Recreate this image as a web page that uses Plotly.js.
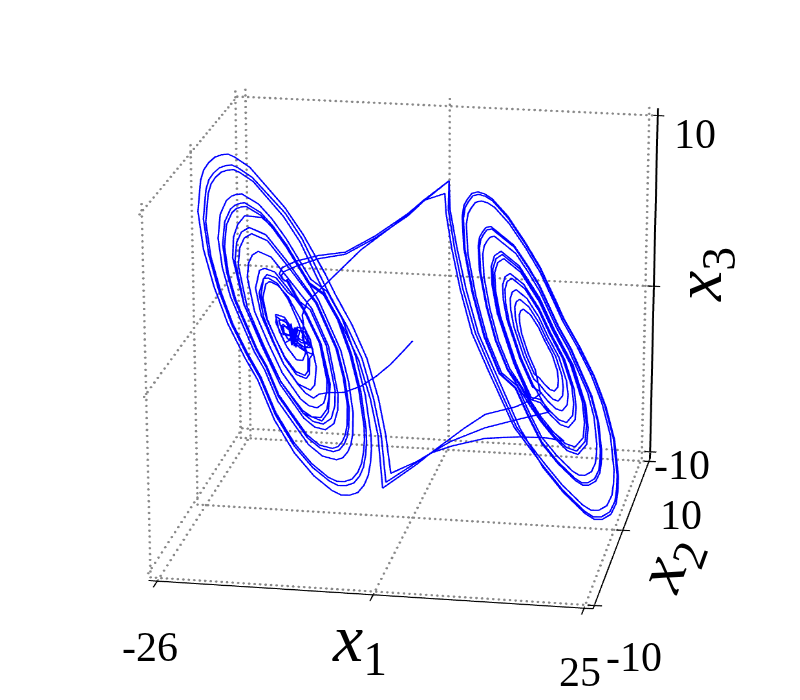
<!DOCTYPE html>
<html>
<head>
<meta charset="utf-8">
<script src="https://cdn.plot.ly/plotly-3.0.1.min.js"></script>
<style>
html, body { margin: 0; padding: 0; width: 800px; height: 700px; overflow: hidden; background: #fff; }
#chart { position: absolute; left: -1245px; top: -1314px; width: 3307px; height: 3307px; }
/* the reference is a bit wider than tall, only the 3d canvas gets stretched, not the text */
#chart .gl-container { transform: scaleX(1.126); transform-origin: 1653.5px 1653.5px; }
</style>
</head>
<body>
<div id="chart"></div>
<script>
const x1Ticks = [-26, 0, 25];
const x2Ticks = [-10, 0, 10];
const x3Ticks = [-10, 0, 10];

// trajectory, run by run. depth cannot be read from one view so x2 stays at x2Plane
const x2Plane = 0;

const leftRun1X1 = [0,-1.17,-2.75,-4.46,-6.4,-8.47,-10.29,-11.56,-12.29,-13.28,-14.19,-15.94,-17.2,-18.38,-18.89,-18.33,-17.73,-16.61,-15.33,-14.06,-13.44,-13.22,-13.58,-14.36,-15.55,-16.46,-16.9,
  -16.58,-15.77,-15.16,-14.76,-13.95,-13.14,-12.33,-12.33,-13.14,-13.95,-14.96,-15.77,-16.3,-16.86,-16.78,-16.37,-15.57,-14.96,-14.15,-13.34,-12.65,-12.53,-13.34,-14.15,-14.96,-15.97,-16.17,-15.97,-15.36,-14.76,-14.35,-13.54,-13.05,-12.93,-13.74,-14.55,-15.36,-15.85,-15.97,-15.16,-14.76,-14.55,-14.96,-14.35,-14.76,-14.15,-14.55,
  -15,-14.6,-14.2,-14.9,-15.3,-14.4,-13.9,-13.2,-12.7,-13.5,-14.8,-16,-16.5,-15.6,
  -13.95,-13.14,-12.33,-12.33,
  -12.72,-12.76,-13.17,-14.39,-15.81,-16.86,-17.92,-18.45,-18.04,-17.57,-16.57,-15.34,-13.77,-12.62,-11.91,-12.11,-12.66,-14.2,-15.94,-17.28,-18.66,-19.33,-18.81,-18.17,-16.93,-15.36,
  -13.06,-11.47,-10.6,-10.64,-11.01,-11.85,-12.87,-13.9,-16.14,-17.81,-19.49,-20.33,-20.14,-19.68,-18.93,-17.35,-15.39,
  -12.42,-10.37,-9.24,-9.28,-9.77,-10.85,-12.18,-13.5,-16.4,-18.57,-20.74,-21.82,-21.58,-20.98,-20.01,-17.97,-15.43,
  -11.78,-9.26,-8.38,-7.87,-7.93,-8.14,-8.52,-9.11,-9.85,-11.48,-13.11,-16.66,-18.14,-19.32,-21.99,-22.88,-23.31,-23.02,-22.28,-21.7,-21.09,-20.5,-18.58,-17.1,-15.47,-12.66,
  -10.78,-9.06,-7.54,-6.4,-5.76,-5.72,-5.83,-6.1,-6.59,-7.34,-8.3,-9.32,-10.4,-12.49,-14.78,-17.07,-18.97,-20.49,-22.4,-23.93,-25.07,-25.64,-25.26,-24.88,-24.31,-23.56,-22.78,-22.01,-21.26,-19.55,
  -15.56,-13.53,-11.31,-10.09,-8.06,-6.24,-4.82,-3.89,-3.32,
  2.23,3.91,6.44,8.97,12.76,14.86,15.71];
const leftRun1X3 = [-0.07,-0.7,-1.51,-2.22,-2.86,-3.27,-3.33,-3.45,-3.71,-3.44,-2.97,-1.83,-0.52,0.85,2.22,3.05,3.1,2.82,1.96,0.64,-0.22,-1.13,-1.54,-1.53,-0.8,0.08,1.02,
  1,0.89,0.42,0.04,-0.32,-0.49,-0.86,-1.15,-1.04,-0.81,-0.36,-0.58,-0.01,0.56,0.91,0.77,0.6,0.07,0.35,0.32,-0.28,-0.77,-0.79,-0.53,-0.16,-0.1,0.39,0.49,0.22,-0.06,0.21,0.12,-0.39,-0.58,-0.51,-0.25,-0.37,0,0.39,0.32,-0.55,0.34,-0.65,0.35,-0.55,0.26,-0.54,
  0.55,-0.75,0.4,-0.7,0.4,-0.8,0.2,0.1,-0.6,-0.9,-0.2,0,0.7,0.75,
  -0.32,-0.49,-0.86,-1.15,
  -1.41,-2.32,-2.59,-2.39,-1.47,-0.43,0.72,1.96,2.76,2.91,2.72,2.1,0.79,-0.34,-1.87,-2.93,-3.25,-2.93,-1.83,-0.55,0.92,2.49,3.52,3.65,3.47,2.58,
  1.17,-0.49,-2.62,-3.34,-3.97,-4.27,-4.17,-3.8,-2.34,-0.69,1.14,3.09,3.91,4.37,4.6,4.31,3.2,
  1.5,-0.64,-3.39,-4.32,-5.14,-5.53,-5.4,-4.92,-3.04,-0.9,1.47,3.99,5.05,5.65,5.94,5.57,4.14,
  1.84,-0.79,-2.47,-4.16,-5.31,-5.89,-6.32,-6.66,-6.79,-6.63,-6.05,-3.73,-2.07,-1.11,1.79,3.33,4.9,6.19,6.93,7.17,7.28,7.32,6.82,6.09,5.07,2.95,
  2.36,0.95,-1.02,-3.19,-5.37,-6.14,-6.84,-7.59,-8.14,-8.58,-8.75,-8.77,-8.54,-7.79,-6.57,-4.81,-2.67,-1.44,0.35,2.3,4.29,6.3,7.96,8.53,8.91,9.23,9.37,9.42,9.28,8.78,
  6.85,5.45,3.37,2.24,0.55,-1.24,-3.55,-5.67,-8.42,
  -6.55,-5.91,-4.95,-4.09,-3.54,-3.03,-2.71];

const rightRun1X1 = [15.02,14.18,13.34,13.08,13.02,13.18,13.5,14.39,15.39,16.13,17.08,17.73,17.87,17.82,17.39,16.87,16.18,15.55,
  14.94,13.9,12.85,12.53,12.46,12.66,13.05,14.16,15.4,16.31,17.49,18.3,18.47,18.4,17.88,17.23,16.38,15.6,
  14.86,13.61,12.37,11.98,11.9,12.13,12.6,13.92,15.41,16.5,17.9,18.87,19.07,18.99,18.37,17.59,16.58,15.64,
  14.73,13.14,11.56,11.06,10.97,11.26,11.85,13.54,15.42,16.81,18.59,19.82,20.07,19.98,19.18,18.19,16.91,15.72,
  14.55,13.29,12.53,10.51,9.88,9.75,10.13,10.88,13.03,15.44,17.21,19.48,21.05,21.38,21.25,20.24,18.97,17.33,15.82,14.48,13.01,
  11.7,10.24,9.09,8.28,8.11,8.27,8.6,9,9.58,12.35,13.99,15.46,17.75,19.21,21.82,22.71,23.13,23.11,22.97,22.49,21.66,20.9,20.03,17.91,15.95,14.31,12.69,
  10.71,8.85,7.39,6.36,6.15,6.35,6.77,7.28,8.01,8.81,9.68,11.54,13.62,15.49,17.14,18.39,20.26,22.13,23.57,24.7,25.24,25.21,25.03,24.42,23.37,22.4,21.29,18.6,16.11,
  12.55,10.44,9.3,7.28,5.81,4.75,4.05,3.9,
  1.26,-0.56,-6.28,-10.66,-12.97,-13.58,-13.45];
const rightRun1X3 = [-1.33,-0.48,0.67,1.3,1.73,1.99,2.09,1.78,1.08,0.37,-0.44,-1.34,-1.88,-2.27,-2.52,-2.44,-2.15,-1.8,
  -1.61,-0.55,0.87,1.65,2.19,2.5,2.64,2.24,1.37,0.49,-0.5,-1.62,-2.28,-2.77,-3.08,-2.99,-2.62,-2.19,
  -1.88,-0.62,1.07,2,2.65,3.02,3.18,2.71,1.67,0.62,-0.56,-1.91,-2.69,-3.27,-3.64,-3.53,-3.1,-2.58,
  -2.35,-0.74,1.41,2.59,3.41,3.88,4.08,3.49,2.17,0.84,-0.67,-2.37,-3.38,-4.11,-4.58,-4.44,-3.89,-3.23,
  -3.08,-1.83,-1.03,1.72,3.22,4.27,4.87,5.13,4.37,2.69,0.98,-0.94,-3.11,-4.39,-5.33,-5.93,-5.75,-5.05,-4.21,-3.31,-2.2,
  -1.42,0.2,2.13,4.08,5.44,5.92,6.21,6.47,6.54,5.57,4.48,3.39,1.19,0.03,-2.62,-4.1,-5.76,-6.4,-6.97,-7.48,-7.74,-7.76,-7.51,-6.6,-5.52,-4.06,-2.45,
  -1.67,0.39,2.84,5.31,7.04,7.66,8.02,8.35,8.44,8.35,8.11,7.2,5.82,4.44,2.86,1.64,0.16,-1.51,-3.2,-5.09,-7.19,-8.01,-8.73,-9.38,-9.71,-9.73,-9.42,-8.26,-6.89,
  -4.76,-2.67,-1.54,0.55,3.04,5.35,7.3,8.4,
  7.94,7.11,5,2.93,1.85,1.07,0.55];

const leftRun2X1 = [-13.6,-12.92,-12.94,-13.32,-14.45,-15.79,-16.86,-18.01,-18.67,-18.33,-17.89,-16.77,-15.35,
  -12.59,-10.65,-9.59,-9.63,-10.09,-11.11,-12.36,-13.6,-16.33,-18.37,-20.41,-21.43,-21.21,-20.64,-19.73,-17.8,-15.42,
  -11.87,-9.43,-8.57,-8.08,-8.13,-8.34,-8.71,-9.28,-10,-11.58,-13.17,-16.62,-18.06,-19.21,-21.8,-22.67,-23.09,-22.81,-22.09,-21.52,-20.93,-20.35,-18.49,-17.05,-15.47,-12.73,
  -10.9,-9.23,-7.75,-6.64,-6.01,-5.97,-6.08,-6.35,-6.82,-7.55,-8.49,-9.48,-10.53,-12.57,-14.79,-17.02,-18.87,-20.35,-22.21,-23.69,-24.81,-25.36,-24.99,-24.62,-24.07,-23.34,-22.58,-21.83,-21.1,-19.43,
  -15.76,-13.74,-11.71,-10.49,-8.47,-6.64,-5.23,-4.29,-3.73,
  0.54,2.23,4.75,8.97,13.18,16.76];
const leftRun2X3 = [-0.2,-1.3,-2.15,-2.41,-2.22,-1.42,-0.43,0.75,2.09,3.05,3.3,3.14,2.34,
  1.41,-0.6,-3.19,-4.07,-4.84,-5.2,-5.08,-4.63,-2.86,-0.85,1.38,3.76,4.75,5.32,5.59,5.24,3.9,
  1.79,-0.77,-2.4,-4.05,-5.16,-5.73,-6.14,-6.48,-6.6,-6.45,-5.88,-3.63,-2.01,-1.08,1.75,3.24,4.76,6.02,6.74,6.98,7.08,7.12,6.64,5.93,4.93,2.87,
  2.3,0.93,-0.99,-3.1,-5.22,-5.97,-6.66,-7.39,-7.92,-8.35,-8.52,-8.53,-8.32,-7.58,-6.39,-4.68,-2.6,-1.4,0.34,2.24,4.17,6.13,7.75,8.3,8.68,8.99,9.12,9.17,9.03,8.55,
  6.65,5.24,3.26,2.13,0.43,-1.36,-3.56,-5.68,-8.78,
  -7.24,-6.55,-5.78,-4.87,-4.25,-3.75];

const rightRun2X1 = [14.77,13.28,11.8,11.34,11.25,11.52,12.08,13.65,15.42,16.72,18.38,19.53,19.77,19.68,18.94,18.01,16.81,15.69,
  14.58,13.38,12.65,10.71,10.1,9.98,10.35,11.07,13.13,15.43,17.13,19.31,20.81,21.13,21.01,20.03,18.82,17.25,15.8,14.52,13.08,
  11.91,10.53,9.45,8.69,8.53,8.68,8.99,9.37,9.91,12.53,14.07,15.45,17.61,18.99,21.45,22.28,22.68,22.66,22.53,22.08,21.29,20.58,19.75,17.76,15.91,14.37,12.84,
  10.9,9.11,7.71,6.72,6.52,6.71,7.12,7.61,8.31,9.08,9.91,11.69,13.69,15.48,17.07,18.27,20.06,21.85,23.24,24.32,24.84,24.81,24.64,24.05,23.04,22.12,21.05,18.47,16.08,
  12.84,10.78,9.68,7.7,6.14,5.09,4.33,4.4,
  1.26,-0.56,-4.58,-8.22,-11.51,-14.3,-16.01,-16.37,-16.01];
const rightRun2X3 = [-2.21,-0.71,1.31,2.41,3.18,3.62,3.81,3.26,2.02,0.77,-0.64,-2.23,-3.17,-3.86,-4.3,-4.17,-3.65,-3.04,
  -2.96,-1.77,-1,1.63,3.08,4.08,4.66,4.9,4.18,2.56,0.93,-0.91,-3,-4.22,-5.12,-5.69,-5.53,-4.85,-4.05,-3.17,-2.15,
  -1.36,0.17,1.98,3.82,5.09,5.55,5.82,6.06,6.14,5.22,4.19,3.17,1.09,0,-2.49,-3.89,-5.45,-6.05,-6.59,-7.08,-7.32,-7.33,-7.11,-6.24,-5.23,-3.85,-2.33,
  -1.62,0.35,2.71,5.08,6.73,7.33,7.68,7.99,8.08,7.99,7.76,6.89,5.57,4.24,2.72,1.55,0.13,-1.47,-3.09,-4.9,-6.91,-7.7,-8.4,-9.02,-9.33,-9.35,-9.06,-7.94,-6.63,
  -4.75,-2.66,-1.53,0.56,3.05,5.36,7.49,9.12,
  7.94,7.17,5.81,4.81,4.54,4.15,3.74,3.38,3.1];

const leftRun3X1 = [-15.37,-13.15,-11.47,-10.4,-10.33,-10.64,-11.4,-12.51,-13.66,-16.33,-18.48,-20.78,-22.1,-21.96,-21.42,-20.53,-18.45,-17.08,-15.46,
  -11.54,-8.85,-7.91,-7.37,-7.43,-7.66,-8.06,-8.69,-9.48,-11.22,-12.96,-16.76,-18.34,-19.6,-22.45,-23.4,-23.87,-23.55,-22.77,-22.14,-21.5,-20.86,-18.81,-17.23,-15.49,-12.49,
  -10.5,-8.67,-7.05,-5.84,-5.15,-5.11,-5.23,-5.52,-6.04,-6.84,-7.86,-8.94,-10.09,-12.32,-14.75,-17.19,-19.21,-20.83,-22.86,-24.48,-25.7,-26.3,-25.9,-25.49,-24.89,-24.09,-23.26,-22.44,-21.64,-19.82,
  -15.56,-13.33,-10.69,-9.48,-7.45,-5.63,-4.21,-3.32,-2.71,
  0.54,2.23,4.75,8.97,13.18,16.55,18.66];
const leftRun3X3 = [2.93,1.12,-0.49,-2.73,-3.56,-4.32,-4.83,-4.81,-4.47,-2.86,-0.88,1.48,4.16,5.34,6.07,6.59,6.54,6.01,5.07,
  1.96,-0.85,-2.64,-4.45,-5.67,-6.3,-6.75,-7.12,-7.26,-7.09,-6.46,-3.99,-2.21,-1.19,1.92,3.56,5.23,6.61,7.4,7.66,7.78,7.82,7.29,6.51,5.42,3.16,
  2.51,1.01,-1.09,-3.39,-5.71,-6.53,-7.28,-8.08,-8.66,-9.13,-9.31,-9.33,-9.09,-8.29,-6.99,-5.12,-2.84,-1.53,0.37,2.45,4.56,6.7,8.47,9.07,9.48,9.82,9.97,10.02,9.87,9.34,
  7.15,5.65,3.49,2.36,0.67,-1.23,-3.53,-5.65,-7.87,
  -7.08,-6.55,-6.07,-5.49,-5.29,-5.26,-5.39];

const rightRun3X1 = [15.83,14.52,13.22,12.43,10.34,9.69,9.56,9.95,10.73,12.95,15.44,17.27,19.62,21.24,21.58,21.45,20.4,19.09,17.4,15.83,14.44,12.88,
  11.63,10.14,8.97,8.14,7.97,8.13,8.47,8.88,9.47,12.29,13.96,15.46,17.79,19.29,21.95,22.85,23.28,23.26,23.12,22.63,21.78,21.01,20.12,17.96,15.96,14.29,12.63,
  10.64,8.75,7.27,6.22,6.01,6.21,6.64,7.16,7.9,8.71,9.59,11.48,13.59,15.49,17.17,18.44,20.33,22.23,23.7,24.84,25.39,25.36,25.18,24.56,23.49,22.51,21.38,18.65,16.12,
  13.18,11.16,10.06,8.04,6.52,5.39,4.54,4.4,
  1.26,-0.56,-4.58,-8.22,-11.51,-14.3,-15.77,-16.13,-15.77,
  -15.38,-13.06,-11.31,-10.2,-10.46,-11.26,-13.6];
const rightRun3X3 = [-4.34,-3.17,-1.88,-1.06,1.78,3.34,4.42,5.04,5.31,4.53,2.79,1.03,-0.96,-3.21,-4.53,-5.5,-6.12,-5.94,-5.2,-4.34,-3.45,-2.31,
  -1.43,0.22,2.18,4.17,5.55,6.05,6.34,6.6,6.68,5.68,4.58,3.46,1.22,0.04,-2.66,-4.18,-5.86,-6.51,-7.1,-7.62,-7.88,-7.9,-7.65,-6.72,-5.62,-4.13,-2.48,
  -1.69,0.4,2.89,5.4,7.15,7.78,8.15,8.48,8.58,8.48,8.24,7.32,5.92,4.51,2.91,1.67,0.17,-1.53,-3.24,-5.16,-7.29,-8.12,-8.86,-9.52,-9.85,-9.87,-9.56,-8.38,-6.99,
  -4.74,-2.65,-1.52,0.57,3.06,5.37,7.49,9.12,
  7.88,7.05,5.69,4.69,4.36,3.86,3.52,3.27,2.99,
  3.06,1.17,-0.51,-2.85,-4.49,-5.02,-4.63];

const x1Path = [].concat(leftRun1X1, rightRun1X1, leftRun2X1, rightRun2X1, leftRun3X1, rightRun3X1);
const x3Path = [].concat(leftRun1X3, rightRun1X3, leftRun2X3, rightRun2X3, leftRun3X3, rightRun3X3);

const size = 3307, pageLeft = -1245, pageTop = -1314;
const xa = -27.06, xb = 26.06, ya = -10.42, yb = 10.42, za = -10.42, zb = 10.42;

let gx = [], gy = [], gz = [];
function addGrid(a, b, n) {
  for (let i = 0; i <= n; i++) {
    let t = i / n;
    gx.push(a[0] + (b[0] - a[0]) * t);
    gy.push(a[1] + (b[1] - a[1]) * t);
    gz.push(a[2] + (b[2] - a[2]) * t);
  }
}
x1Ticks.forEach(t => {
  addGrid([t, ya, za], [t, yb, za], 30);
  addGrid([t, yb, za], [t, yb, zb], 62);
});
x2Ticks.forEach(t => {
  addGrid([xa, t, za], [xb, t, za], 80);
  addGrid([xa, t, za], [xa, t, zb], 62);
});
x3Ticks.forEach(t => {
  addGrid([xa, ya, t], [xa, yb, t], 30);
  addGrid([xa, yb, t], [xb, yb, t], 76);
});

let traces = [{
  type: "scatter3d", mode: "markers", x: gx, y: gy, z: gz,
  marker: { size: 1.2, color: "#888888", line: { width: 0 } }, hoverinfo: "skip"
}];
function seg(xs, ys, zs, w) {
  traces.push({ type: "scatter3d", mode: "lines", x: xs, y: ys, z: zs, line: { color: "#000000", width: w }, hoverinfo: "skip" });
}
seg([xa, xb], [ya, ya], [za, za], 2);
seg([xb, xb], [ya, yb], [za, za], 2);
seg([xb, xb], [yb, yb], [za, zb], 3);
x1Ticks.forEach(t => seg([t, t], [ya - 0.8, ya + 0.2], [za, za], 2));
x2Ticks.forEach(t => seg([xb - 0.8, xb + 0.9], [t, t], [za, za], 2));
x3Ticks.forEach(t => seg([xb - 0.7, xb + 0.8], [yb, yb], [t, t], 2));

traces.push({
  type: "scatter3d", mode: "lines", x: x1Path, y: x1Path.map(() => x2Plane), z: x3Path,
  line: { color: "#0000ff", width: 2.4 }, hoverinfo: "skip"
});

function label(text, px, py, fontSize, angle) {
  return {
    text: text, xref: "paper", yref: "paper", showarrow: false,
    x: (px - pageLeft) / size, y: 1 - (py - pageTop) / size,
    xanchor: "center", yanchor: "middle", textangle: angle || 0,
    font: { family: "Liberation Serif", size: fontSize, color: "#000000" }
  };
}

let layout = {
  width: size, height: size, showlegend: false,
  margin: { l: 0, r: 0, t: 0, b: 0 }, paper_bgcolor: "#fff",
  scene: {
    domain: { x: [0, 1], y: [0, 1] },
    aspectmode: "manual", aspectratio: { x: 1.06, y: 1.09, z: 1.068 },
    camera: { eye: { x: 1.644, y: -9.33, z: 3.486 }, center: { x: 0, y: 0, z: 0 }, up: { x: 0, y: 0, z: 1 } },
    xaxis: { range: [xa - 2, xb + 2], visible: false },
    yaxis: { range: [ya - 1, yb + 1], visible: false },
    zaxis: { range: [za - 1, zb + 1], visible: false }
  },
  annotations: [
    label("-26", 150, 647, 42),
    label("25", 580, 672, 42),
    label("-10", 634, 657, 42),
    label("10", 695, 134, 42),
    label("-10", 682, 465, 42),
    label("10", 681, 515, 42),
    label("<i>x</i><sub>1</sub>", 359, 642, 68),
    label("<i>x</i><sub>2</sub>", 668, 564, 68, -70),
    label("<i>x</i><sub>3</sub>", 702, 275, 68, -90)
  ]
};
Plotly.newPlot("chart", traces, layout, { displayModeBar: false });
</script>
</body>
</html>
